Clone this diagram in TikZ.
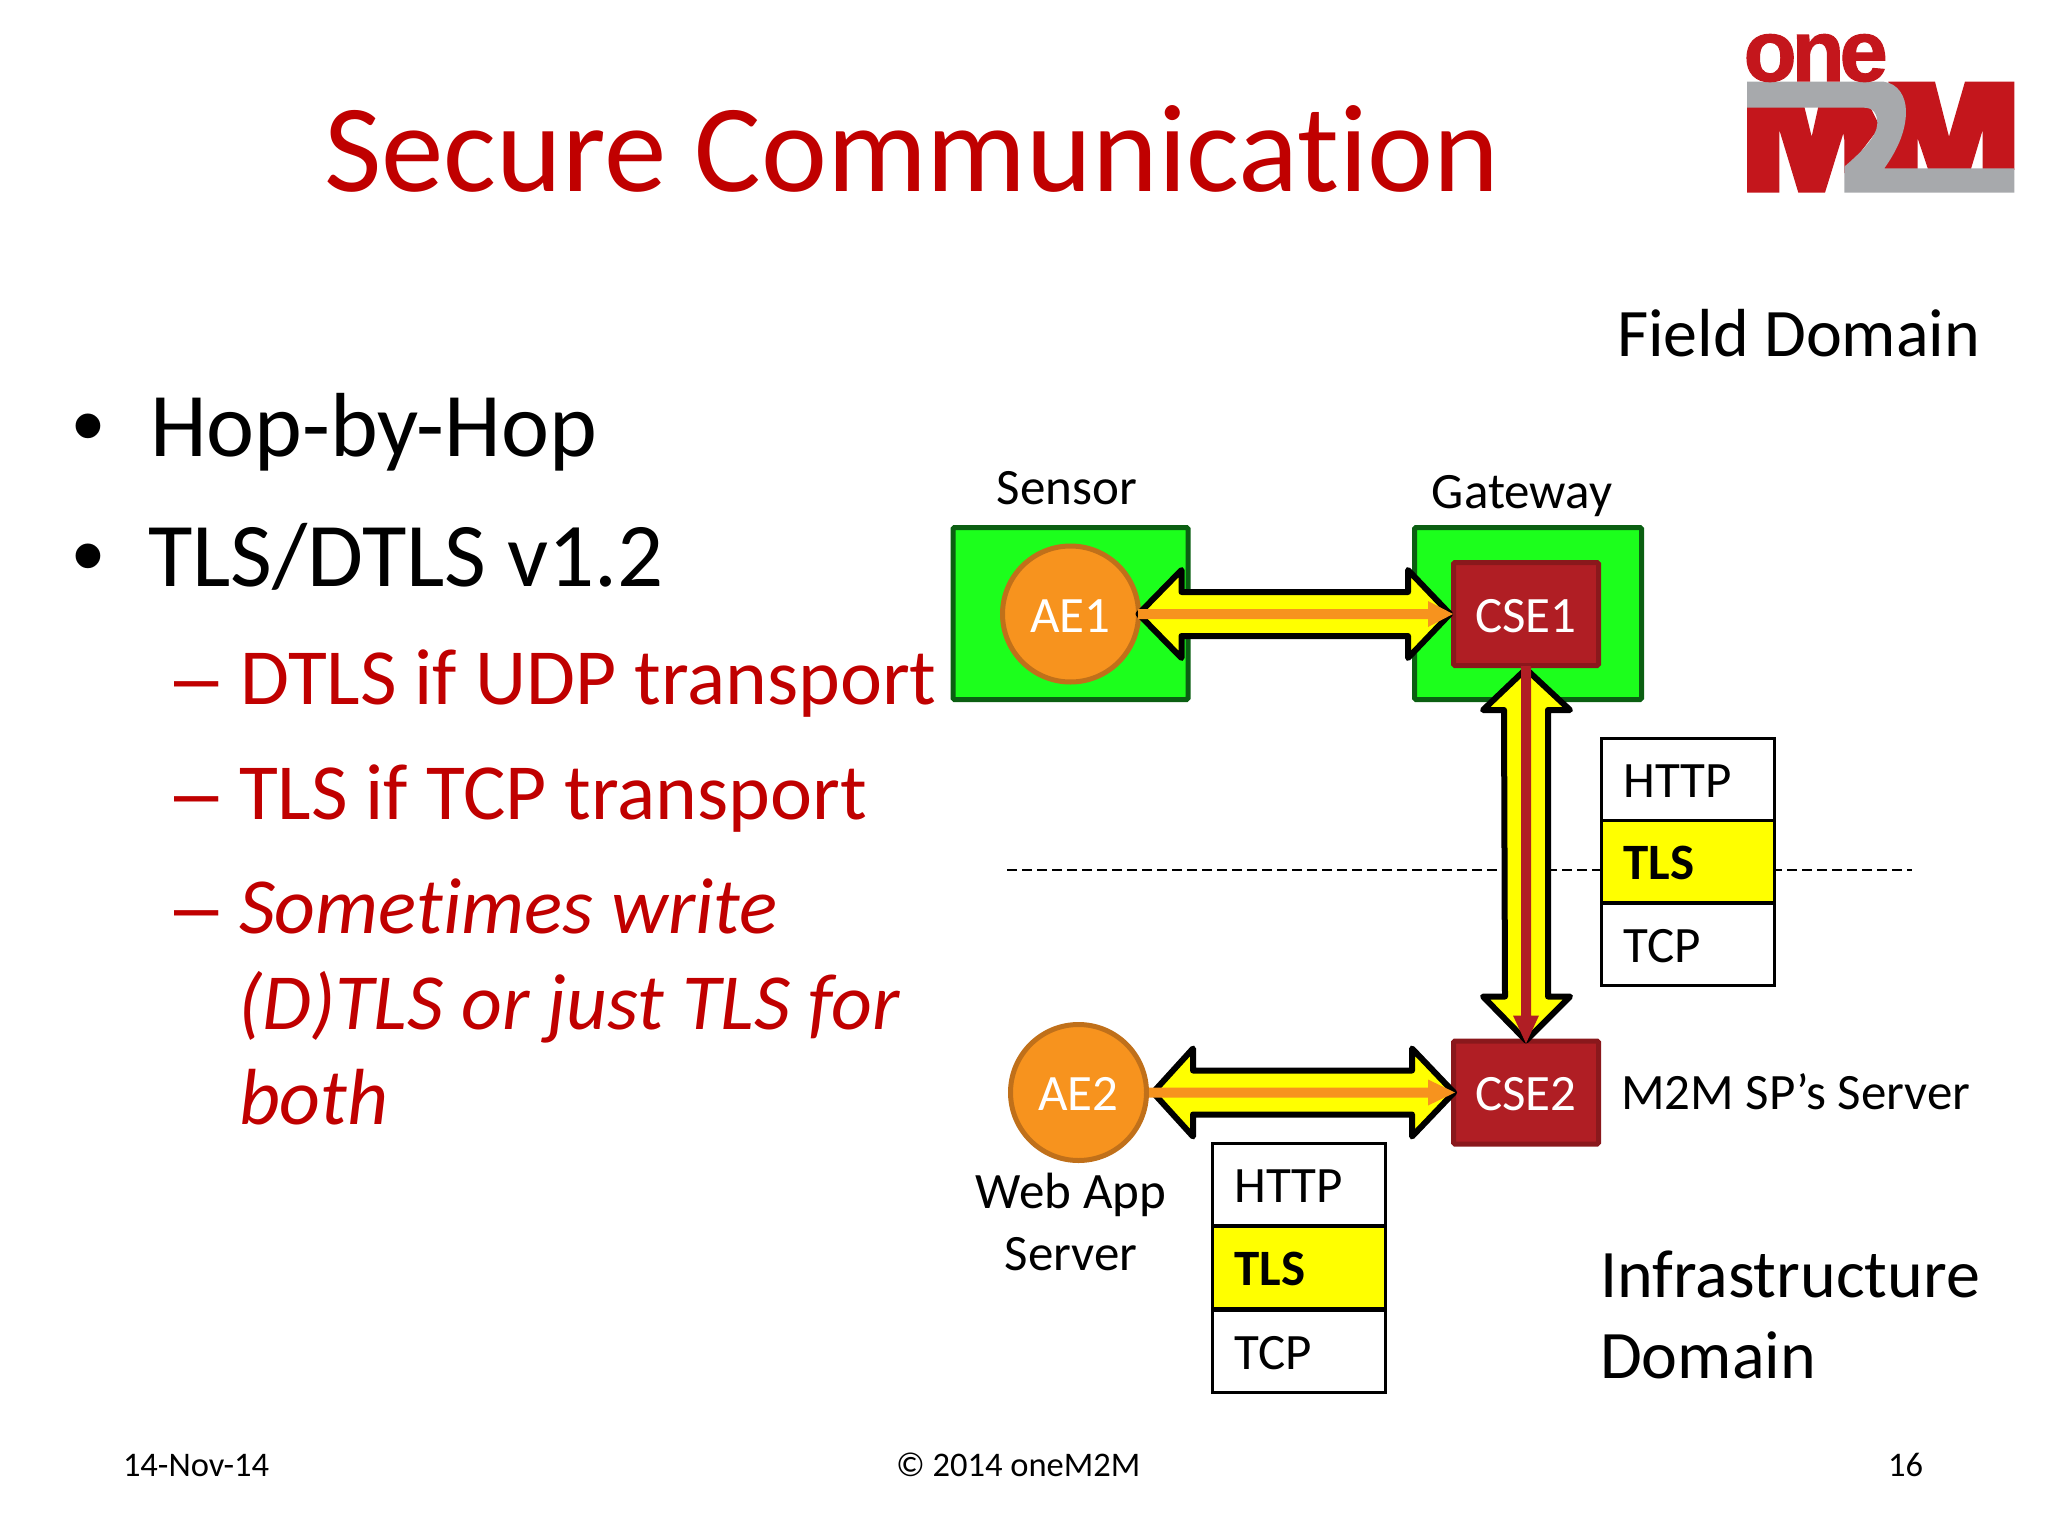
\documentclass[tikz,border=0pt]{standalone}
\usepackage{fontspec}
\setmainfont[Ligatures=NoCommon]{Carlito}
\newfontfamily\logofont[LetterSpace=-6,FakeBold=1.2]{Liberation Sans Bold}
\newfontfamily\arialfont{Liberation Sans}
\usetikzlibrary{calc,shapes.geometric}
\definecolor{ttl}{HTML}{C00000}
\definecolor{bgreen}{HTML}{1CFF1C}
\definecolor{dgreen}{HTML}{0B5F12}
\definecolor{aeo}{HTML}{F7931E}
\definecolor{aeb}{HTML}{C0701A}
\definecolor{csef}{HTML}{B01E24}
\definecolor{cseb}{HTML}{8A181C}
\definecolor{lred}{HTML}{C4161C}
\definecolor{lgrey}{HTML}{A7A9AC}
\definecolor{yel}{HTML}{FFFF00}
\tikzset{
 txt/.style={anchor=base west,inner sep=0pt,outer sep=0pt},
 ctr/.style={anchor=base,inner sep=0pt,outer sep=0pt},
 domainbox/.style={draw=dgreen,line width=5pt,fill=bgreen,rounded corners=1.5pt,minimum height=172pt,inner sep=0pt},
 cse/.style={draw=cseb,line width=5pt,fill=csef,rounded corners=1.5pt,minimum width=145pt,minimum height=103pt,inner sep=0pt,text=white,text height=36pt,text depth=0pt,font=\fontsize{51}{51}\selectfont},
 ae/.style={circle,draw=aeb,line width=5pt,fill=aeo,minimum size=136pt,inner sep=0pt,text=white,text height=36pt,text depth=0pt,font=\fontsize{51}{51}\selectfont},
 cell/.style={draw=black,line width=3pt,minimum width=173pt,minimum height=82pt,inner xsep=22pt,inner ysep=0pt,text width=129pt,align=left,text height=36pt,text depth=0pt,font=\fontsize{51}{51}\selectfont},
 blockarrow/.style={draw=black,line width=6pt,line join=round,fill=yel},
 body/.style={txt,font=\fontsize{91}{91}\selectfont},
 bull/.style={txt,font=\arialfont\fontsize{91}{91}\selectfont},
 sub/.style={txt,text=ttl,font=\fontsize{79.6}{79.6}\selectfont},
 subdash/.style={txt,text=ttl,font=\arialfont\fontsize{79.6}{79.6}\selectfont},
 lab/.style={font=\fontsize{51}{51}\selectfont},
 dom/.style={txt,font=\fontsize{68}{68}\selectfont},
 foot/.style={font=\fontsize{34.5}{34.5}\selectfont},
}
\begin{document}
\begin{tikzpicture}[x=1pt,y=-1pt]
\useasboundingbox (0,0) rectangle (2048,1536);
% logo
\begin{scope}[shift={(1650,0)},x=0.3333pt,y=-0.3333pt]
 \fill[lred] (291,320) -- (463,320) -- (485,410) -- (505,320) -- (660,320) -- (690,380) -- (583,520) -- (583,420) -- (580,400) -- (525,578) -- (445,578) -- (388,390) -- (388,578) -- (291,578) -- cycle;
 \fill[lred] (715,245) -- (855,245) -- (897,410) -- (945,245) -- (1093,245) -- (1093,510) -- (998,510) -- (998,390) -- (962,510) -- (835,510) -- (803,415) -- (803,510) -- (690,510) -- (740,400) -- cycle;
 \fill[lgrey] (291,245) -- (700,245) .. controls (745,250) and (768,290) .. (768,335) .. controls (768,400) and (735,460) .. (703,505) -- (1093,505) -- (1093,578) -- (583,578) -- (583,500) .. controls (630,460) and (682,410) .. (682,370) .. controls (682,340) and (670,323) .. (640,323) -- (291,323) -- cycle;
 \node[anchor=base west,inner sep=0pt,text=lred] (onelogo) at (280,243) {\logofont\fontsize{87}{87}\selectfont one};
\end{scope}
% title
\node[txt,text=ttl,font=\fontsize{125}{125}\selectfont] (title) at (324,191) {Secure Communication};
% bullets
\node[bull] (b1) at (72,456) {•};
\node[body] (hop) at (150,456) {Hop-by-Hop};
\node[bull] (b2) at (72,586) {•};
\node[body] (tls) at (148,586) {TLS/DTLS v1.2};
\node[subdash] (d1) at (174,704) {–};
\node[sub] (s1) at (240,704) {DTLS if UDP transport};
\node[subdash] (d2) at (174,819) {–};
\node[sub] (s2) at (239,819) {TLS if TCP transport};
\node[subdash] (d3) at (174,933) {–};
\node[sub] (s3) at (239,933) {\itshape Sometimes write};
\node[sub] (s4) at (238,1029) {\itshape (D)TLS or just TLS for};
\node[sub] (s5) at (239,1124) {\itshape both};
% domains
\node[dom] (field) at (1617,356) {Field Domain};
\node[dom] (infra1) at (1600,1297) {Infrastructure};
\node[dom] (infra2) at (1600,1378) {Domain};
% dashed separator
\coordinate (dl) at (1007,870);
\coordinate (dr) at (1912,870);
\draw[line width=2pt,dash pattern=on 10pt off 5pt] (dl) -- (dr);
% labels
\node[ctr,lab] (sensor) at (1067,504) {Sensor};
\node[ctr,lab] (gateway) at (1522,508) {Gateway};
\node[txt,lab] (sp) at (1621,1109) {M2M SP’s Server};
\node[ctr,lab] (web) at (1071,1208) {Web App};
\node[ctr,lab] (srv) at (1071,1270) {Server};
% boxes
\node[domainbox,minimum width=235pt] (sensorbox) at (1070.5,613.5) {};
\node[domainbox,minimum width=227pt] (gwbox) at (1528,613.5) {};
\node[ae] (ae1) at (1070.5,614) {AE1};
\node[cse] (cse1) at (1526,614) {CSE1};
\node[ae] (ae2) at (1078.5,1092.5) {AE2};
\node[cse] (cse2) at (1526,1092.5) {CSE2};
% stacks
\node[cell,fill=white] (h1) at (1688,779) {HTTP};
\node[cell,fill=yel] (t1) at (1688,861) {\textbf{TLS}};
\node[cell,fill=white] (c1) at (1688,944) {TCP};
\node[cell,fill=white] (h2) at (1299,1184.5) {HTTP};
\node[cell,fill=yel] (t2) at (1299,1267) {\textbf{TLS}};
\node[cell,fill=white] (c2) at (1299,1351) {TCP};
% block arrow AE1-CSE1
\draw[blockarrow] ($(ae1.east)+(-2.5,0)$) -- ++(43,-44) -- ++(0,22) -- ($(cse1.west)+(-43,-22)$) -- ++(0,-22) -- ($(cse1.west)+(-1,0)$) -- ++(-42,44) -- ++(0,-22) -- ($(ae1.east)+(40.5,22)$) -- ++(0,22) -- cycle;
\fill[aeo] ($(ae1.east)+(-3,-5)$) -- ($(cse1.west)+(-23,-5)$) -- ++(0,-8) -- ($(cse1.west)+(2,0)$) -- ($(cse1.west)+(-23,13)$) -- ++(0,-8) -- ($(ae1.east)+(-3,5)$) -- cycle;
% block arrow CSE1-CSE2
\draw[blockarrow] ($(cse1.south)+(0,1)$) -- ++(-43,41) -- ++(21,0) -- ($(cse2.north)+(-21,-42)$) -- ++(-22,0) -- ($(cse2.north)+(0,2)$) -- ++(44,-44) -- ++(-22,0) -- ($(cse1.south)+(22,42)$) -- ++(22,0) -- cycle;
\fill[csef] ($(cse1.south)+(-5,-2)$) -- ($(cse2.north)+(-5,-23)$) -- ++(-8,0) -- ($(cse2.north)+(0,5)$) -- ($(cse2.north)+(13,-23)$) -- ++(-8,0) -- ($(cse1.south)+(5,-2)$) -- cycle;
% block arrow AE2-CSE2
\draw[blockarrow] ($(ae2.east)+(4,0)$) -- ++(40,-44) -- ++(0,22) -- ($(cse2.west)+(-39,-22)$) -- ++(0,-22) -- ($(cse2.west)+(3,0)$) -- ++(-42,44) -- ++(0,-22) -- ($(ae2.east)+(44,22)$) -- ++(0,22) -- cycle;
\fill[aeo] ($(ae2.east)+(0,-5)$) -- ($(cse2.west)+(-23,-5)$) -- ++(0,-8) -- ($(cse2.west)+(4,0)$) -- ($(cse2.west)+(-23,13)$) -- ++(0,-8) -- ($(ae2.east)+(0,5)$) -- cycle;
% footer
\node[txt,foot] (date) at (123,1476) {14-Nov-14};
\node[txt,foot] (copy) at (896,1476) {© 2014 oneM2M};
\node[txt,foot] (page) at (1888,1476) {16};
\end{tikzpicture}
\end{document}
